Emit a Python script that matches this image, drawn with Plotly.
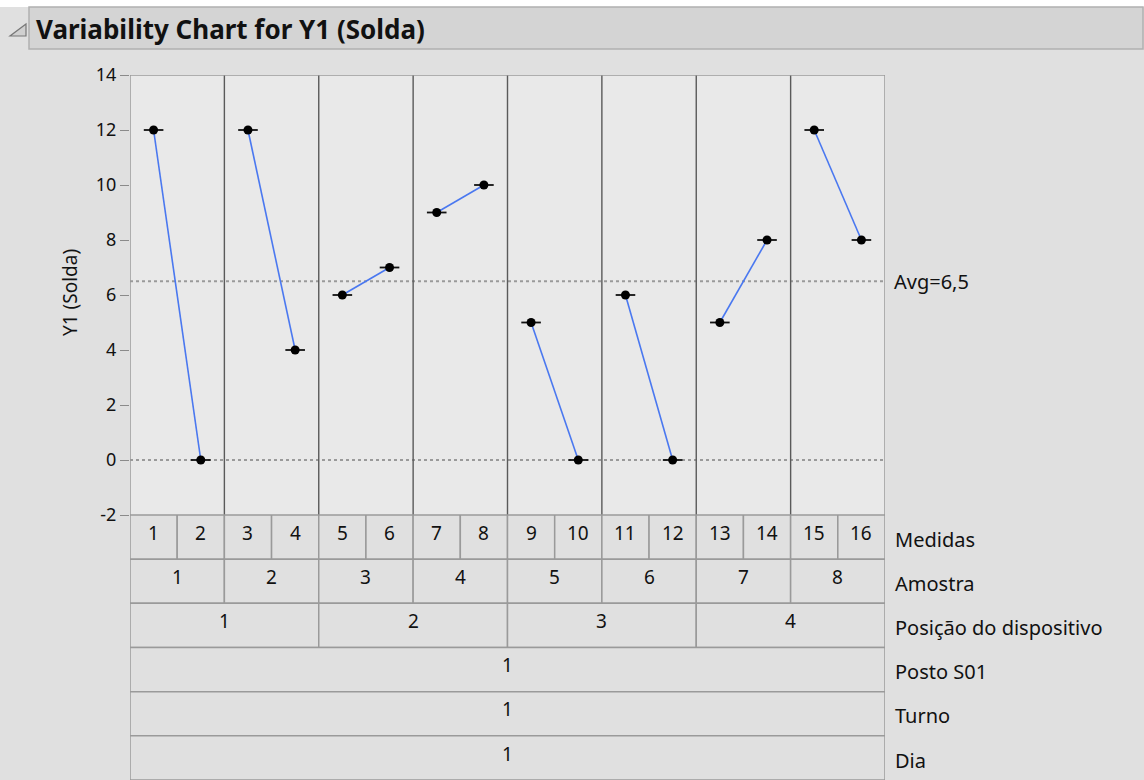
import plotly.graph_objects as go

W, H = 1144, 780

# ---------------- data ----------------
medidas = [str(i) for i in range(1, 17)]
amostra = [str(i) for i in range(1, 9)]
posicao = ["1", "2", "3", "4"]
posto = ["1"]
turno = ["1"]
dia = ["1"]
y1 = [12, 0, 12, 4, 6, 7, 9, 10, 5, 0, 6, 0, 5, 8, 12, 8]
avg_value = 6.5
avg_label = "Avg=6,5"
row_names = ["Medidas", "Amostra", "Posição do dispositivo", "Posto S01", "Turno", "Dia"]
row_levels = [medidas, amostra, posicao, posto, turno, dia]
yticks = [-2, 0, 2, 4, 6, 8, 10, 12, 14]

# ---------------- helpers ----------------
def px(x):
    return x / W

def py(y):
    return 1 - y / H

FONT = "Noto Sans, Open Sans, DejaVu Sans, sans-serif"
TXT = "#111111"
n = len(y1)
xs = [i + 0.5 for i in range(n)]

plot_left, plot_right = 130, 885
plot_top, plot_bot = 75, 515

fig = go.Figure()

# connecting lines within each Amostra cell
per = n // len(amostra)
lx, ly = [], []
for g in range(len(amostra)):
    for k in range(per):
        lx.append(xs[g * per + k])
        ly.append(y1[g * per + k])
    lx.append(None)
    ly.append(None)
fig.add_trace(go.Scatter(x=lx, y=ly, mode="lines",
                         line=dict(color="#4a78f0", width=1.6),
                         hoverinfo="skip", showlegend=False))
# dash ticks
fig.add_trace(go.Scatter(x=xs, y=y1, mode="markers",
                         marker=dict(symbol="line-ew", size=14,
                                     line=dict(color="#111", width=1.8)),
                         hoverinfo="skip", showlegend=False))
# points
fig.add_trace(go.Scatter(x=xs, y=y1, mode="markers",
                         marker=dict(symbol="circle", size=9, color="#000"),
                         showlegend=False))

shapes = []
# white top strip
shapes.append(dict(type="rect", xref="paper", yref="paper", x0=0, x1=1,
                   y0=py(7), y1=1, fillcolor="#ffffff", line=dict(width=0), layer="below"))
# title bar
shapes.append(dict(type="rect", xref="paper", yref="paper", x0=px(29), x1=px(1143),
                   y0=py(49), y1=py(7), fillcolor="#d4d4d4",
                   line=dict(color="#b0b0b0", width=1.5), layer="below"))
# triangle icon
shapes.append(dict(type="path", xref="paper", yref="paper",
                   path=f"M {px(10)} {py(36)} L {px(26)} {py(36)} L {px(26)} {py(24)} Z",
                   fillcolor="#d0d0d0", line=dict(color="#777", width=1.2)))
# plot area background
shapes.append(dict(type="rect", xref="x", yref="y", x0=0, x1=n, y0=-2, y1=14,
                   fillcolor="#e9e9e9", line=dict(width=0), layer="below"))
# reference dotted lines
for yv in [avg_value, 0]:
    shapes.append(dict(type="line", xref="x", yref="y", x0=0, x1=n, y0=yv, y1=yv,
                       line=dict(color="#9a9a9a", width=1.8, dash="dot"), layer="below"))
# separators between Amostra cells
for g in range(1, len(amostra)):
    xv = g * per
    shapes.append(dict(type="line", xref="x", yref="y", x0=xv, x1=xv, y0=-2, y1=14,
                       line=dict(color="#5a5a5a", width=1.4), layer="below"))
# plot frame
shapes.append(dict(type="rect", xref="x", yref="y", x0=0, x1=n, y0=-2, y1=14,
                   fillcolor="rgba(0,0,0,0)", line=dict(color="#9a9a9a", width=1.5),
                   layer="below"))

annotations = []
# table rows (y2: 6 at top, 0 at bottom)
nrows = len(row_levels)
for r, levels in enumerate(row_levels):
    top = nrows - r
    bot = top - 1
    w = n / len(levels)
    for j, lab in enumerate(levels):
        shapes.append(dict(type="rect", xref="x", yref="y2", x0=j * w, x1=(j + 1) * w,
                           y0=bot, y1=top, fillcolor="#e0e0e0",
                           line=dict(color="#9a9a9a", width=1.5), layer="below"))
        annotations.append(dict(xref="x", yref="y2", x=(j + 0.5) * w, y=(top + bot) / 2 + 0.1,
                                text=lab, showarrow=False,
                                font=dict(family=FONT, size=19, color=TXT)))
    annotations.append(dict(xref="paper", yref="y2", x=px(893), y=(top + bot) / 2 - 0.05,
                            xanchor="left", text=row_names[r], showarrow=False,
                            font=dict(family=FONT, size=20, color=TXT)))

# title
annotations.append(dict(xref="paper", yref="paper", x=px(34), y=py(29), xanchor="left",
                        yanchor="middle", text="<b>Variability Chart for Y1 (Solda)</b>",
                        showarrow=False, font=dict(family=FONT, size=26, color="#111")))
# avg label
annotations.append(dict(xref="paper", yref="y", x=px(892), y=avg_value, xanchor="left",
                        text=avg_label, showarrow=False,
                        font=dict(family=FONT, size=20, color=TXT)))
# y axis title
annotations.append(dict(xref="paper", yref="paper", x=px(55), y=py(293), textangle=-90,
                        text="Y1 (Solda)", showarrow=False,
                        font=dict(family=FONT, size=19, color=TXT)))

fig.update_layout(
    template="none",
    width=W, height=H,
    autosize=False,
    margin=dict(l=0, r=0, t=0, b=0, pad=0, autoexpand=False),
    paper_bgcolor="#e0e0e0",
    plot_bgcolor="rgba(0,0,0,0)",
    shapes=shapes,
    annotations=annotations,
    xaxis=dict(domain=[px(plot_left), px(plot_right)], range=[0, n], automargin=False,
               showgrid=False, zeroline=False, showticklabels=False, ticks="", showline=False),
    yaxis=dict(domain=[py(plot_bot), py(plot_top)], range=[-2, 14], automargin=False,
               tickvals=yticks, ticktext=[str(v) for v in yticks],
               ticks="outside", ticklen=9, tickwidth=1.2, tickcolor="#8a8a8a",
               showgrid=False, zeroline=False, showline=False,
               tickfont=dict(family=FONT, size=18, color=TXT)),
    yaxis2=dict(domain=[0, py(plot_bot)], range=[0, nrows], anchor="x", automargin=False,
                showgrid=False, zeroline=False, showticklabels=False, ticks="", showline=False),
    showlegend=False,
)

fig.write_html("out.html", config={"displayModeBar": False},
               post_script="document.body.style.margin='0';document.body.style.overflow='hidden';")
